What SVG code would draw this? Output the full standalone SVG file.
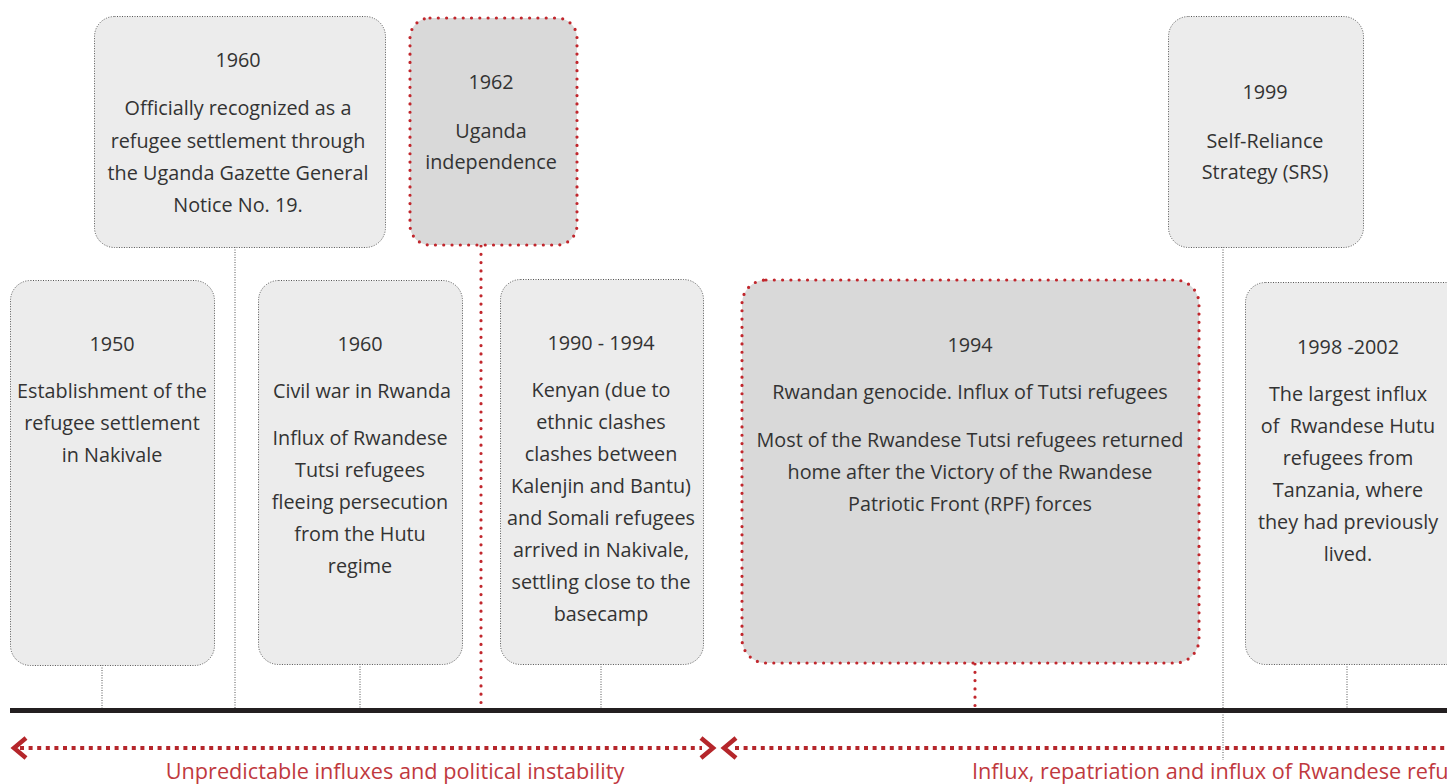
<svg xmlns="http://www.w3.org/2000/svg" width="1447" height="784" viewBox="0 0 1447 784">
<style>
.box{fill:#ececec;stroke:#555;stroke-width:1;stroke-dasharray:1 1.5}
.hbox{fill:#d9d9d9;stroke:#c1272d;stroke-width:3.2;stroke-linecap:round;stroke-dasharray:0 8.3}
.t{font-family:"Open Sans","Noto Sans","Liberation Sans",sans-serif;font-size:19.8px;fill:#333;text-anchor:middle}
.con{fill:none;stroke:#555;stroke-width:1;stroke-dasharray:1 1.5}
.rcon{fill:none;stroke:#c1272d;stroke-width:3.2;stroke-linecap:round;stroke-dasharray:0 8.3}
.rl{fill:none;stroke:#b5262b;stroke-width:4;stroke-dasharray:4 4.6}
.chev{fill:none;stroke:#b5262b;stroke-width:4.5}
.lab{font-family:"Open Sans","Noto Sans","Liberation Sans",sans-serif;font-size:21.7px;fill:#c0393e}
</style>
<g id="connectors">
<line class="con" x1="102" y1="665" x2="102" y2="710"/>
<line class="con" x1="235" y1="247" x2="235" y2="710"/>
<line class="con" x1="360" y1="664" x2="360" y2="710"/>
<line class="rcon" x1="481" y1="246" x2="481" y2="712"/>
<line class="con" x1="601" y1="664" x2="601" y2="710"/>
<line class="rcon" x1="975" y1="664" x2="975" y2="710"/>
<line class="con" x1="1223" y1="247" x2="1223" y2="760"/>
<line class="con" x1="1347" y1="664" x2="1347" y2="710"/>
</g>
<g id="timeline">
<rect x="10" y="708" width="1437" height="5" fill="#231f20"/>
</g>
<g id="n1960a">
<rect class="box" x="94.5" y="16.5" width="291" height="231" rx="20"/>
<text class="t" x="238" y="67">1960</text>
<text class="t" x="238" y="115">Officially recognized as a</text>
<text class="t" x="238" y="148">refugee settlement through</text>
<text class="t" x="238" y="180">the Uganda Gazette General</text>
<text class="t" x="238" y="212">Notice No. 19.</text>
</g>
<g id="n1962">
<rect class="hbox" x="410" y="18" width="167" height="227" rx="20"/>
<text class="t" x="491" y="89">1962</text>
<text class="t" x="491" y="138">Uganda</text>
<text class="t" x="491" y="169">independence</text>
</g>
<g id="n1999">
<rect class="box" x="1168.5" y="16.5" width="195" height="231" rx="20"/>
<text class="t" x="1265" y="99">1999</text>
<text class="t" x="1265" y="148">Self-Reliance</text>
<text class="t" x="1265" y="179">Strategy (SRS)</text>
</g>
<g id="n1950">
<rect class="box" x="10.5" y="280.5" width="204" height="385" rx="20"/>
<text class="t" x="112" y="351">1950</text>
<text class="t" x="112" y="398">Establishment of the</text>
<text class="t" x="112" y="430">refugee settlement</text>
<text class="t" x="112" y="462">in Nakivale</text>
</g>
<g id="n1960b">
<rect class="box" x="258.5" y="280.5" width="204" height="384" rx="20"/>
<text class="t" x="360" y="351">1960</text>
<text class="t" x="362" y="398">Civil war in Rwanda</text>
<text class="t" x="360" y="445">Influx of Rwandese</text>
<text class="t" x="360" y="477">Tutsi refugees</text>
<text class="t" x="360" y="509">fleeing persecution</text>
<text class="t" x="360" y="541">from the Hutu</text>
<text class="t" x="360" y="573">regime</text>
</g>
<g id="n1990">
<rect class="box" x="500.5" y="279.5" width="203" height="385" rx="20"/>
<text class="t" x="601" y="350">1990 - 1994</text>
<text class="t" x="601" y="397">Kenyan (due to</text>
<text class="t" x="601" y="429">ethnic clashes</text>
<text class="t" x="601" y="461">clashes between</text>
<text class="t" x="601" y="493">Kalenjin and Bantu)</text>
<text class="t" x="601" y="525">and Somali refugees</text>
<text class="t" x="601" y="557">arrived in Nakivale,</text>
<text class="t" x="601" y="589">settling close to the</text>
<text class="t" x="601" y="621">basecamp</text>
</g>
<g id="n1994">
<rect class="hbox" x="742" y="280" width="457" height="383" rx="24"/>
<text class="t" x="970" y="352">1994</text>
<text class="t" x="970" y="399">Rwandan genocide. Influx of Tutsi refugees</text>
<text class="t" x="970" y="447">Most of the Rwandese Tutsi refugees returned</text>
<text class="t" x="970" y="479">home after the Victory of the Rwandese</text>
<text class="t" x="970" y="511">Patriotic Front (RPF) forces</text>
</g>
<g id="n1998">
<rect class="box" x="1245.5" y="282.5" width="220" height="382" rx="20"/>
<text class="t" x="1348" y="354">1998 -2002</text>
<text class="t" x="1348" y="401">The largest influx</text>
<text class="t" x="1348" y="433" xml:space="preserve">of  Rwandese Hutu</text>
<text class="t" x="1348" y="465">refugees from</text>
<text class="t" x="1348" y="497">Tanzania, where</text>
<text class="t" x="1348" y="529">they had previously</text>
<text class="t" x="1348" y="561">lived.</text>
</g>
<g id="periods">
<line class="rl" x1="20" y1="748" x2="702" y2="748"/>
<polyline class="chev" points="26,738 14,748 26,758"/>
<polyline class="chev" points="701,738 713,748 701,758"/>
<line class="rl" x1="735" y1="748" x2="1447" y2="748"/>
<polyline class="chev" points="736,738 724,748 736,758"/>
<text class="lab" x="395" y="779" text-anchor="middle">Unpredictable influxes and political instability</text>
<text class="lab" x="972" y="779">Influx, repatriation and influx of Rwandese refugees</text>
</g>
</svg>
